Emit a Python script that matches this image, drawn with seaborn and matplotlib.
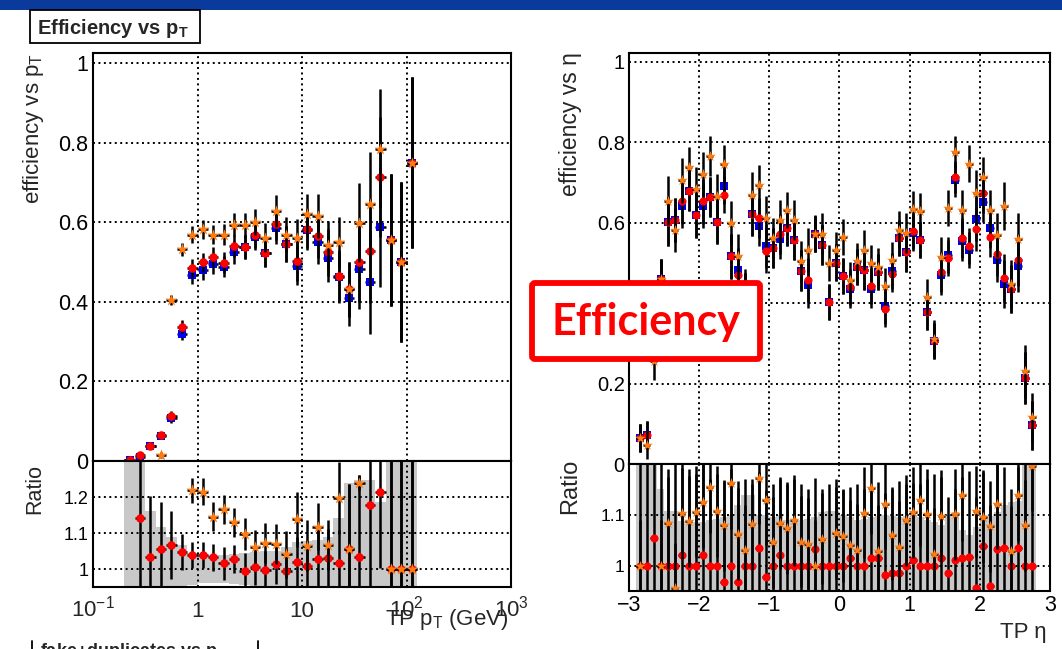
import numpy as np
import pandas as pd
import matplotlib
matplotlib.use('Agg')
import matplotlib.pyplot as plt
import seaborn as sns
from matplotlib.patches import Rectangle, FancyBboxPatch
from matplotlib.ticker import FixedLocator, FixedFormatter, MultipleLocator, NullFormatter, LogLocator

sns.set_style('white')
plt.rcParams['font.family'] = ['Liberation Sans', 'DejaVu Sans']
plt.rcParams['mathtext.fontset'] = 'custom'
plt.rcParams['mathtext.rm'] = 'Liberation Sans'
plt.rcParams['mathtext.it'] = 'Liberation Sans:italic'
plt.rcParams['mathtext.bf'] = 'Liberation Sans:bold'

# ---------------- data: efficiency vs pT (log10 bin edges) ----------------
pt_log_edges = [-0.7, -0.6, -0.5, -0.4, -0.3, -0.2, -0.1, 0.0, 0.1, 0.2, 0.3, 0.4, 0.5, 0.6,
                0.7, 0.8, 0.9, 1.0, 1.1, 1.2, 1.3, 1.4, 1.5, 1.6, 1.7, 1.8, 1.9, 2.0, 2.1]
pt_blue = [0.002, 0.011, 0.037, 0.063, 0.107, 0.320, 0.467, 0.479, 0.494, 0.488, 0.524, 0.538, 0.563, 0.523,
           0.586, 0.546, 0.491, 0.580, 0.550, 0.509, 0.461, 0.410, 0.483, 0.450, 0.588, 0.555, 0.500, 0.749]
pt_red = [0.003, 0.015, 0.038, 0.065, 0.114, 0.337, 0.485, 0.499, 0.512, 0.498, 0.540, 0.538, 0.568, 0.523,
          0.596, 0.546, 0.502, 0.584, 0.565, 0.524, 0.466, 0.431, 0.500, 0.528, 0.714, 0.555, 0.500, 0.749]
pt_orange = [np.nan, np.nan, np.nan, 0.015, 0.404, 0.532, 0.569, 0.582, 0.569, 0.569, 0.594, 0.594, 0.600, 0.561,
             0.628, 0.569, 0.559, 0.620, 0.616, 0.542, 0.549, 0.431, 0.599, 0.646, 0.785, 0.555, 0.500, 0.749]
pt_err = [0.003, 0.004, 0.006, 0.008, 0.012, 0.016, 0.022, 0.024, 0.025, 0.026, 0.028, 0.030, 0.033, 0.036,
          0.040, 0.045, 0.050, 0.050, 0.055, 0.060, 0.065, 0.070, 0.100, 0.130, 0.150, 0.165, 0.200, 0.215]
pt_ratio_red = [np.nan, 1.141, 1.034, 1.055, 1.067, 1.048, 1.039, 1.039, 1.032, 1.016, 1.028, 0.995, 1.005, 0.996,
                1.014, 0.995, 1.020, 1.007, 1.027, 1.030, 1.017, 1.056, 1.032, 1.177, 1.214, 1.0, 1.0, 1.0]
pt_ratio_red_err = [0.0, 0.30, 0.17, 0.13, 0.095, 0.05, 0.035, 0.037, 0.037, 0.046, 0.04, 0.05, 0.05, 0.055,
                    0.055, 0.06, 0.07, 0.07, 0.08, 0.08, 0.09, 0.18, 0.23, 0.25, 0.21, 0.5, 0.5, 0.5]
pt_ratio_orange = [np.nan, np.nan, np.nan, np.nan, np.nan, np.nan, 1.219, 1.215, 1.145, 1.166, 1.130, 1.097, 1.062, 1.073,
                   1.069, 1.041, 1.138, 1.065, 1.118, 1.066, 1.198, 1.056, 1.240, np.nan, np.nan, 1.0, 1.0, 1.0]
pt_ratio_orange_err = [0.0, 0.0, 0.0, 0.0, 0.0, 0.0, 0.035, 0.037, 0.04, 0.04, 0.04, 0.044, 0.046, 0.055,
                       0.055, 0.065, 0.077, 0.07, 0.065, 0.07, 0.1, 0.18, 0.02, 0.0, 0.0, 0.5, 0.5, 0.5]
pt_band_sigma = [0.6, 0.6, 0.161, 0.118, 0.090, 0.067, 0.045, 0.040, 0.040, 0.040, 0.042, 0.045, 0.048, 0.050,
                 0.050, 0.060, 0.074, 0.078, 0.080, 0.090, 0.141, 0.238, 0.247, 0.247, 0.187, 0.6, 0.6, 0.6]

# ---------------- data: efficiency vs eta ----------------
eta_edges = list(np.round(np.linspace(-2.9, 2.8, 58), 2))
eta_blue = [0.065, 0.073, 0.30, 0.46, 0.603, 0.607, 0.641, 0.680, 0.618, 0.641,
            0.663, 0.602, 0.692, 0.516, 0.483, 0.42, 0.622, 0.593, 0.543, 0.537,
            0.559, 0.587, 0.558, 0.481, 0.444, 0.571, 0.544, 0.402, 0.501, 0.468,
            0.434, 0.489, 0.483, 0.434, 0.477, 0.394, 0.479, 0.562, 0.527, 0.574,
            0.558, 0.377, 0.305, 0.469, 0.520, 0.705, 0.554, 0.533, 0.610, 0.651,
            0.587, 0.508, 0.448, 0.436, 0.492, 0.214, 0.096]
eta_red = [0.065, 0.073, 0.30, 0.46, 0.603, 0.607, 0.653, 0.680, 0.618, 0.653,
           0.663, 0.602, 0.670, 0.516, 0.469, 0.42, 0.622, 0.612, 0.530, 0.537,
           0.571, 0.587, 0.558, 0.481, 0.458, 0.571, 0.544, 0.402, 0.501, 0.468,
           0.440, 0.489, 0.483, 0.442, 0.477, 0.385, 0.472, 0.562, 0.527, 0.580,
           0.558, 0.377, 0.305, 0.477, 0.512, 0.713, 0.562, 0.543, 0.585, 0.675,
           0.564, 0.522, 0.462, 0.436, 0.508, 0.214, 0.096]
eta_orange = [0.065, 0.048, 0.255, 0.46, 0.655, 0.581, 0.705, 0.738, 0.684, 0.721,
              0.765, 0.667, 0.747, 0.599, 0.516, 0.43, 0.670, 0.693, 0.612, 0.562,
              0.607, 0.631, 0.607, 0.504, 0.533, 0.573, 0.573, 0.500, 0.533, 0.564,
              0.458, 0.504, 0.533, 0.500, 0.491, 0.442, 0.508, 0.583, 0.574, 0.634,
              0.630, 0.415, 0.312, 0.515, 0.636, 0.776, 0.631, 0.747, 0.675, 0.713,
              0.632, 0.570, 0.642, 0.448, 0.560, 0.231, 0.116]
eta_err = [0.035, 0.035, 0.045, 0.05, 0.06, 0.055, 0.055, 0.05, 0.055, 0.055,
           0.05, 0.055, 0.045, 0.055, 0.055, 0.055, 0.055, 0.05, 0.055, 0.05,
           0.05, 0.045, 0.05, 0.05, 0.055, 0.045, 0.05, 0.045, 0.045, 0.045,
           0.045, 0.045, 0.05, 0.045, 0.045, 0.045, 0.045, 0.045, 0.05, 0.045,
           0.045, 0.045, 0.045, 0.05, 0.045, 0.04, 0.05, 0.045, 0.055, 0.05,
           0.05, 0.055, 0.06, 0.06, 0.065, 0.065, 0.06]
eta_ratio_red = [1.0, 1.0, 1.055, 1.0, 1.0, 1.0, 1.020, 1.0, 1.0, 1.020,
                 1.0, 1.0, 0.967, 1.0, 0.967, 1.0, 1.0, 1.034, 0.978, 1.0,
                 1.020, 1.0, 1.0, 1.0, 1.0, 1.033, 1.0, 1.0, 1.0, 1.0,
                 1.014, 1.0, 1.0, 1.015, 1.015, 0.982, 0.985, 0.986, 1.0, 1.012,
                 1.0, 1.0, 1.0, 1.015, 0.985, 1.011, 1.015, 1.016, 0.955, 1.038,
                 0.96, 1.032, 1.034, 1.0, 1.035, 1.0, 1.0]
eta_ratio_red_err = [0.5, 0.5, 0.5, 0.2, 0.19, 0.2, 0.18, 0.19, 0.18, 0.2,
                     0.17, 0.18, 0.2, 0.19, 0.2, 0.17, 0.16, 0.15, 0.17, 0.16,
                     0.15, 0.16, 0.17, 0.16, 0.15, 0.14, 0.15, 0.16, 0.17, 0.15,
                     0.14, 0.16, 0.15, 0.14, 0.15, 0.16, 0.17, 0.18, 0.16, 0.15,
                     0.16, 0.17, 0.18, 0.16, 0.15, 0.14, 0.16, 0.17, 0.18, 0.15,
                     0.16, 0.17, 0.16, 0.15, 0.16, 0.5, 0.5]
eta_ratio_orange = [1.0, np.nan, np.nan, 1.0, 1.084, 0.955, 1.103, 1.087, 1.106, 1.125,
                    1.155, 1.107, 1.079, 1.163, 1.062, 1.030, 1.081, 1.172, 1.130, 1.046,
                    1.084, 1.074, 1.089, 1.047, 1.043, 1.0, 1.053, np.nan, 1.064, 1.058,
                    1.040, 1.031, 1.104, 1.152, 1.029, 1.122, 1.061, 1.037, 1.089, 1.105,
                    1.129, 1.101, 1.023, 1.098, np.nan, 1.101, 1.139, np.nan, 1.107, 1.095,
                    1.077, 1.122, np.nan, 1.028, 1.138, 1.079, 1.197]
eta_ratio_orange_err = [0.09] * 57
eta_band_sigma = [0.5, 0.5, 0.5, 0.15, 0.107, 0.107, 0.088, 0.088, 0.085, 0.085,
                  0.09, 0.092, 0.095, 0.10, 0.12, 0.138, 0.138, 0.10, 0.10, 0.095,
                  0.10, 0.09, 0.088, 0.09, 0.092, 0.095, 0.105, 0.108, 0.108, 0.10,
                  0.095, 0.09, 0.092, 0.095, 0.098, 0.10, 0.098, 0.095, 0.098, 0.10,
                  0.095, 0.09, 0.085, 0.08, 0.10, 0.105, 0.07, 0.06, 0.075, 0.10,
                  0.098, 0.105, 0.12, 0.125, 0.128, 0.5, 0.5]

# ---------------- styles ----------------
C_BLUE = '#0000ee'
C_RED = '#ff0000'
C_ORANGE = '#ff7a10'
C_BAND = '#c8c8c8'
GRID_LS = (0, (1, 1.8))

W, H = 1062, 649
fig = plt.figure(figsize=(W / 100, H / 100), dpi=100)


def ax_px(x0, y0, x1, y1):
    return fig.add_axes([x0 / W, 1 - y1 / H, (x1 - x0) / W, (y1 - y0) / H])


def draw_series(ax, xc, xlo, xhi, y, err, marker, color, s, z):
    df = pd.DataFrame({'x': xc, 'xlo': xlo, 'xhi': xhi, 'y': y, 'err': err}).dropna(subset=['y'])
    ax.errorbar(df['x'], df['y'], yerr=df['err'],
                xerr=[df['x'] - df['xlo'], df['xhi'] - df['x']],
                fmt='none', ecolor='black', elinewidth=1.8, capsize=0, zorder=z)
    sns.scatterplot(data=df, x='x', y='y', marker=marker, color=color, s=s,
                    linewidth=0, ax=ax, zorder=z + 0.5, legend=False)


def band(ax, edges, sigma):
    s = np.asarray(sigma, dtype=float)
    up = np.append(1 + s, 1 + s[-1])
    lo = np.append(1 - s, 1 - s[-1])
    ax.fill_between(edges, lo, up, step='post', color=C_BAND, lw=0, zorder=0.5)


def frame(ax):
    for sp in ax.spines.values():
        sp.set_linewidth(1.5)
        sp.set_color('black')
        sp.set_zorder(6)
    ax.set_axisbelow(False)
    ax.grid(True, which='major', linestyle=GRID_LS, color='black', linewidth=1.4)
    ax.set_xlabel('')
    ax.set_ylabel('')


# ---------------- left panels ----------------
edges_l = 10 ** np.array(pt_log_edges)
cent_l = 10 ** ((np.array(pt_log_edges[:-1]) + np.array(pt_log_edges[1:])) / 2)
lo_l, hi_l = edges_l[:-1], edges_l[1:]

axL = ax_px(93, 53, 511, 461)
axL.set_xscale('log')
draw_series(axL, cent_l, lo_l, hi_l, pt_blue, pt_err, 's', C_BLUE, 32, 3)
draw_series(axL, cent_l, lo_l, hi_l, pt_red, pt_err, 'o', C_RED, 38, 4)
draw_series(axL, cent_l, lo_l, hi_l, pt_orange, pt_err, '*', C_ORANGE, 80, 5)
axL.set_xlim(0.1, 1000)
axL.set_ylim(0, 1.025)
frame(axL)
axL.yaxis.set_major_locator(FixedLocator([0, 0.2, 0.4, 0.6, 0.8, 1.0]))
axL.yaxis.set_major_formatter(FixedFormatter(['0', '0.2', '0.4', '0.6', '0.8', '1']))
axL.yaxis.set_minor_locator(MultipleLocator(0.05))
axL.xaxis.set_major_locator(FixedLocator([0.1, 1, 10, 100, 1000]))
axL.xaxis.set_minor_locator(LogLocator(base=10, subs=np.arange(2, 10)))
axL.xaxis.set_minor_formatter(NullFormatter())
axL.tick_params(axis='both', which='both', direction='in', top=False, right=False,
                labelbottom=False, width=1.2, colors='black')
axL.tick_params(which='major', length=9)
axL.tick_params(which='minor', length=4.5)
axL.tick_params(axis='y', labelsize=15.5, pad=3.5)

axLr = ax_px(93, 461, 511, 587)
axLr.set_xscale('log')
band(axLr, edges_l, pt_band_sigma)
draw_series(axLr, cent_l, lo_l, hi_l, pt_ratio_red, pt_ratio_red_err, 'o', C_RED, 38, 3)
draw_series(axLr, cent_l, lo_l, hi_l, pt_ratio_orange, pt_ratio_orange_err, '*', C_ORANGE, 80, 4)
axLr.set_xlim(0.1, 1000)
axLr.set_ylim(0.95, 1.3)
frame(axLr)
axLr.yaxis.set_major_locator(FixedLocator([1.0, 1.1, 1.2]))
axLr.yaxis.set_major_formatter(FixedFormatter(['1', '1.1', '1.2']))
axLr.yaxis.set_minor_locator(MultipleLocator(0.01))
axLr.xaxis.set_major_locator(FixedLocator([0.1, 1, 10, 100, 1000]))
axLr.xaxis.set_minor_locator(LogLocator(base=10, subs=np.arange(2, 10)))
axLr.xaxis.set_minor_formatter(NullFormatter())
axLr.tick_params(axis='both', which='both', direction='in', top=False, right=False,
                 labelbottom=False, width=1.2, colors='black')
axLr.tick_params(which='major', length=7)
axLr.tick_params(which='minor', length=3.5)
axLr.tick_params(axis='y', labelsize=13, pad=3.5)
xt_vals = [0.1, 1, 10, 100, 1000]
xt_labs = [r'$10^{-1}$', '1', '10', r'$10^{2}$', r'$10^{3}$']
for v, lab in zip(xt_vals, xt_labs):
    axLr.text(v, -(617 - 587) / 126, lab, transform=axLr.get_xaxis_transform(),
              ha='center', va='baseline', fontsize=16, clip_on=False)

# ---------------- right panels ----------------
edges_r = np.array(eta_edges)
cent_r = (edges_r[:-1] + edges_r[1:]) / 2
lo_r, hi_r = edges_r[:-1], edges_r[1:]

axR = ax_px(629, 53, 1050, 464)
draw_series(axR, cent_r, lo_r, hi_r, eta_blue, eta_err, 's', C_BLUE, 28, 3)
draw_series(axR, cent_r, lo_r, hi_r, eta_red, eta_err, 'o', C_RED, 34, 4)
draw_series(axR, cent_r, lo_r, hi_r, eta_orange, eta_err, '*', C_ORANGE, 65, 5)
axR.set_xlim(-3, 3)
axR.set_ylim(0, 1.022)
frame(axR)
axR.yaxis.set_major_locator(FixedLocator([0, 0.2, 0.4, 0.6, 0.8, 1.0]))
# the 0.4 label sits under the "Efficiency" call-out box in the reference
axR.yaxis.set_major_formatter(FixedFormatter(['0', '0.2', '', '0.6', '0.8', '1']))
axR.yaxis.set_minor_locator(MultipleLocator(0.05))
axR.xaxis.set_major_locator(MultipleLocator(1))
axR.xaxis.set_minor_locator(MultipleLocator(0.2))
axR.tick_params(axis='both', which='both', direction='in', top=False, right=False,
                labelbottom=False, width=1.2, colors='black')
axR.tick_params(which='major', length=9)
axR.tick_params(which='minor', length=4.5)
axR.tick_params(axis='y', labelsize=14.5, pad=3)

axRr = ax_px(629, 464, 1050, 591)
band(axRr, edges_r, eta_band_sigma)
draw_series(axRr, cent_r, lo_r, hi_r, eta_ratio_red, eta_ratio_red_err, 'o', C_RED, 34, 3)
draw_series(axRr, cent_r, lo_r, hi_r, eta_ratio_orange, eta_ratio_orange_err, '*', C_ORANGE, 65, 4)
axRr.set_xlim(-3, 3)
axRr.set_ylim(0.95, 1.2)
frame(axRr)
axRr.yaxis.set_major_locator(FixedLocator([1.0, 1.1]))
axRr.yaxis.set_major_formatter(FixedFormatter(['1', '1.1']))
axRr.yaxis.set_minor_locator(MultipleLocator(0.01))
axRr.xaxis.set_major_locator(MultipleLocator(1))
axRr.xaxis.set_minor_locator(MultipleLocator(0.2))
axRr.tick_params(axis='both', which='both', direction='in', top=False, right=False,
                 width=1.2, colors='black')
axRr.tick_params(which='major', length=7)
axRr.tick_params(which='minor', length=3.5)
axRr.tick_params(axis='y', labelsize=12.5, pad=3)
axRr.tick_params(axis='x', labelsize=15.5, pad=3)

# ---------------- overlay: titles, labels, boxes ----------------
ov = fig.add_axes([0, 0, 1, 1], zorder=10)
ov.set_xlim(0, W)
ov.set_ylim(H, 0)
ov.axis('off')
ov.patch.set_alpha(0)

ov.add_patch(Rectangle((0, 0), W, 10, facecolor='#0a3a9c', edgecolor='none', zorder=1))
ov.add_patch(Rectangle((30, 10), 170, 33, facecolor='white', edgecolor='black', lw=1.3, zorder=2))
ov.text(37, 28, r'Efficiency vs $\mathbf{p}_{\mathbf{T}}$', fontsize=14.5, fontweight='bold',
        ha='left', va='center', zorder=3)

ov.plot([32, 32], [641, 649], color='black', lw=1.3, zorder=2)
ov.plot([258, 258], [641, 649], color='black', lw=1.3, zorder=2)
ov.text(40, 641, r'fake+duplicates vs $\mathbf{p}_{\mathbf{T}}$', fontsize=13, fontweight='bold',
        ha='left', va='top', zorder=3, clip_on=False)

ov.text(34, 53, r'efficiency vs $\mathrm{p}_{\mathrm{T}}$', rotation=90, fontsize=16,
        ha='center', va='top')
ov.text(35, 489, 'Ratio', rotation=90, fontsize=15.5, ha='center', va='center')
ov.text(570, 52, 'efficiency vs η', rotation=90, fontsize=16.5, ha='center', va='top')
ov.text(570, 486, 'Ratio', rotation=90, fontsize=17, ha='center', va='center')
ov.text(508, 625, r'TP $\mathrm{p}_{\mathrm{T}}$ (GeV)', fontsize=16, ha='right', va='baseline')
ov.text(1047, 638, 'TP η', fontsize=16, ha='right', va='baseline')

ov.add_patch(FancyBboxPatch((532, 283), 228, 76, boxstyle='round,pad=0,rounding_size=3',
                            facecolor='white', edgecolor='#ff0000', lw=4.2, zorder=20))
ov.text(646, 322, 'Efficiency', fontsize=31, fontweight='bold', color='#ff0000',
        family=['Lato', 'DejaVu Sans'], ha='center', va='center', zorder=21)

fig.savefig('out.png', dpi=100)
